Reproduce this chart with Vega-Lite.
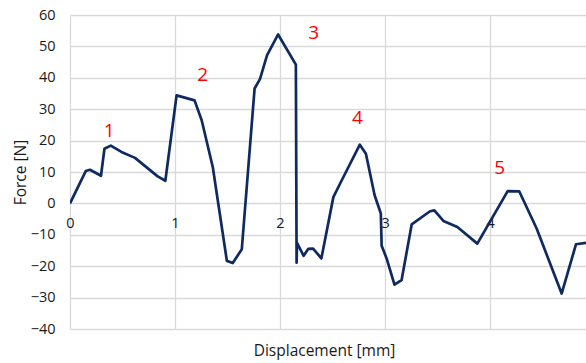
{
  "$schema": "https://vega.github.io/schema/vega-lite/v6.json",
  "autosize": {"type": "none"},
  "padding": {"left": 70, "top": 15, "right": 0, "bottom": 34},
  "width": 516,
  "height": 314,
  "background": "white",
  "config": {
    "view": {"stroke": null},
    "font": "Open Sans",
    "axis": {
      "labelFont": "Open Sans",
      "labelFontSize": 14.5,
      "labelColor": "#1a1a1a",
      "titleFont": "Open Sans",
      "titleFontSize": 15.5,
      "titleFontWeight": "normal",
      "titleColor": "#1a1a1a",
      "gridColor": "#d9d9d9",
      "gridWidth": 1.3,
      "gridOpacity": 1,
      "domain": false,
      "ticks": false
    }
  },
  "encoding": {
    "x": {
      "field": "disp",
      "type": "quantitative",
      "scale": {"domain": [0, 4.914], "nice": false, "zero": false},
      "axis": {
        "title": "Displacement [mm]",
        "values": [0, 1, 2, 3, 4],
        "format": "d",
        "offset": -125.6,
        "labelPadding": 13,
        "labelFlush": false,
        "labelOverlap": false,
        "titleX": 254,
        "titleY": 147,
        "titleAlign": "center",
        "titleBaseline": "middle"
      }
    },
    "y": {
      "field": "force",
      "type": "quantitative",
      "scale": {"domain": [-40, 60], "nice": false},
      "axis": {
        "title": "Force [N]",
        "values": [-40, -30, -20, -10, 0, 10, 20, 30, 40, 50, 60],
        "format": "d",
        "labelPadding": 15,
        "labelFlush": false,
        "labelOverlap": false,
        "titleX": -49.5,
        "titleY": 157,
        "titleAlign": "center",
        "titleBaseline": "middle",
        "titleAngle": -90
      }
    }
  },
  "layer": [
    {
      "data": {
        "values": [
          {"disp": 0, "force": 0},
          {"disp": 0.15, "force": 10.3},
          {"disp": 0.19, "force": 10.7},
          {"disp": 0.295, "force": 8.8},
          {"disp": 0.328, "force": 17.4},
          {"disp": 0.388, "force": 18.4},
          {"disp": 0.49, "force": 16.4},
          {"disp": 0.619, "force": 14.5},
          {"disp": 0.835, "force": 8.6},
          {"disp": 0.908, "force": 7.2},
          {"disp": 1.015, "force": 34.4},
          {"disp": 1.186, "force": 32.8},
          {"disp": 1.254, "force": 26.5},
          {"disp": 1.36, "force": 11.5},
          {"disp": 1.494, "force": -18.3},
          {"disp": 1.55, "force": -19.0},
          {"disp": 1.636, "force": -14.6},
          {"disp": 1.758, "force": 36.6},
          {"disp": 1.809, "force": 39.6},
          {"disp": 1.877, "force": 47.2},
          {"disp": 1.982, "force": 53.8},
          {"disp": 2.151, "force": 44.2},
          {"disp": 2.158, "force": -18.9},
          {"disp": 2.162, "force": -12.6},
          {"disp": 2.225, "force": -16.7},
          {"disp": 2.268, "force": -14.5},
          {"disp": 2.315, "force": -14.4},
          {"disp": 2.394, "force": -17.5},
          {"disp": 2.508, "force": 2.0},
          {"disp": 2.587, "force": 7.3},
          {"disp": 2.76, "force": 18.7},
          {"disp": 2.818, "force": 15.8},
          {"disp": 2.901, "force": 2.6},
          {"disp": 2.96, "force": -3.2},
          {"disp": 2.968, "force": -13.5},
          {"disp": 3.016, "force": -17.6},
          {"disp": 3.09, "force": -25.9},
          {"disp": 3.158, "force": -24.4},
          {"disp": 3.254, "force": -6.7},
          {"disp": 3.429, "force": -2.5},
          {"disp": 3.47, "force": -2.2},
          {"disp": 3.556, "force": -5.6},
          {"disp": 3.689, "force": -7.5},
          {"disp": 3.879, "force": -12.8},
          {"disp": 4.168, "force": 3.9},
          {"disp": 4.279, "force": 3.8},
          {"disp": 4.444, "force": -8.0},
          {"disp": 4.682, "force": -28.7},
          {"disp": 4.819, "force": -13.0},
          {"disp": 4.914, "force": -12.6}
        ]
      },
      "mark": {"type": "line", "color": "#0e2a5f", "strokeWidth": 2.7, "strokeJoin": "round", "clip": true}
    },
    {
      "data": {
        "values": [
          {"disp": 0.374, "force": 23.0, "peak": "1"},
          {"disp": 1.263, "force": 41.0, "peak": "2"},
          {"disp": 2.32, "force": 54.3, "peak": "3"},
          {"disp": 2.737, "force": 27.1, "peak": "4"},
          {"disp": 4.093, "force": 11.3, "peak": "5"}
        ]
      },
      "mark": {"type": "text", "color": "#ff0000", "fontSize": 19, "font": "Open Sans", "baseline": "middle", "align": "center"},
      "encoding": {
        "text": {"field": "peak"}
      }
    }
  ]
}
